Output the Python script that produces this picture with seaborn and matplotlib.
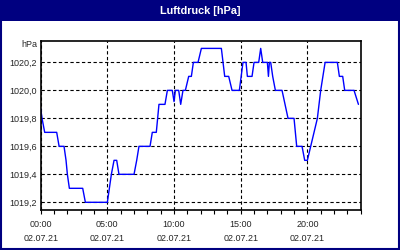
import matplotlib
matplotlib.use("Agg")
import matplotlib.pyplot as plt
import seaborn as sns
import pandas as pd
from matplotlib.patches import Rectangle
from matplotlib.ticker import MultipleLocator, FixedLocator

# ---- data (hours since 02.07.21 00:00, pressure in hPa) ----
hours = [0.0, 0.1, 0.3, 1.2, 1.38, 1.75, 1.9, 2.0, 2.15, 3.15, 3.35, 5.0,
         5.15, 5.3, 5.5, 5.7, 5.87, 7.0, 7.2, 7.37, 8.2, 8.37, 8.67, 8.77,
         8.87, 9.32, 9.5, 9.87, 10.0, 10.1, 10.35, 10.5, 10.67, 10.85, 11.1,
         11.3, 11.45, 11.8, 12.05, 13.55, 13.8, 14.1, 14.35, 14.9, 15.17,
         15.4, 15.5, 15.85, 16.0, 16.35, 16.5, 16.65, 17.0, 17.08, 17.15,
         17.25, 17.4, 17.6, 18.1, 18.55, 19.0, 19.2, 19.6, 19.8, 20.0, 20.25,
         20.75, 21.0, 21.33, 22.25, 22.4, 22.65, 22.8, 23.5, 23.83]
pressure = [1019.87, 1019.8, 1019.7, 1019.7, 1019.6, 1019.6, 1019.5, 1019.4,
            1019.3, 1019.3, 1019.2, 1019.2, 1019.3, 1019.4, 1019.5, 1019.5,
            1019.4, 1019.4, 1019.5, 1019.6, 1019.6, 1019.7, 1019.7, 1019.8,
            1019.9, 1019.9, 1020.0, 1020.0, 1019.92, 1020.0, 1020.0, 1019.9,
            1020.0, 1020.0, 1020.1, 1020.1, 1020.2, 1020.2, 1020.3, 1020.3,
            1020.1, 1020.1, 1020.0, 1020.0, 1020.2, 1020.2, 1020.1, 1020.1,
            1020.2, 1020.2, 1020.3, 1020.2, 1020.2, 1020.1, 1020.2, 1020.2,
            1020.1, 1020.0, 1020.0, 1019.8, 1019.8, 1019.6, 1019.6, 1019.5,
            1019.5, 1019.6, 1019.8, 1020.0, 1020.2, 1020.2, 1020.1, 1020.1,
            1020.0, 1020.0, 1019.9]

x_tick_hours = [0, 5, 10, 15, 20]
x_tick_times = ["00:00", "05:00", "10:00", "15:00", "20:00"]
x_tick_dates = ["02.07.21", "02.07.21", "02.07.21", "02.07.21", "02.07.21"]
y_ticks = [1019.2, 1019.4, 1019.6, 1019.8, 1020.0, 1020.2]
title_text = "Luftdruck [hPa]"
unit_text = "hPa"

NAVY = "#000080"

sns.set_style("white")
plt.rcParams["font.family"] = ["Liberation Sans", "DejaVu Sans"]

df = pd.DataFrame({"h": hours, "p": pressure})

fig = plt.figure(figsize=(4, 2.5), dpi=100)
W, H = 400, 250
ax = fig.add_axes([40.7 / W, 1 - 210 / H, 320 / W, (210 - 40.7) / H])

sns.lineplot(data=df, x="h", y="p", ax=ax, color="#0000FF", linewidth=1.0,
             estimator=None, sort=False)

ax.set_xlim(0, 24)
ax.set_ylim(1019.145, 1020.355)
ax.set_xlabel("")
ax.set_ylabel("")

ax.xaxis.set_major_locator(FixedLocator(x_tick_hours))
ax.xaxis.set_minor_locator(MultipleLocator(1))
ax.set_xticklabels([f"{t}\n{d}" for t, d in zip(x_tick_times, x_tick_dates)])
ax.yaxis.set_major_locator(FixedLocator(y_ticks))
ax.set_yticklabels([f"{v:.1f}".replace(".", ",") for v in y_ticks])

ax.tick_params(axis="x", which="both", direction="out", length=3, width=0.8,
               color="black", pad=4, labelsize=6.5, bottom=True)
ax.tick_params(axis="y", which="both", length=0, pad=3, labelsize=6.5, left=True)
for lab in ax.get_xticklabels():
    lab.set_linespacing(1.75)

ax.grid(True, which="major", color="black", linestyle=(0, (3, 2.2)),
        linewidth=0.8)
for s in ax.spines.values():
    s.set_visible(True)
    s.set_color("black")
    s.set_linewidth(1.2)

# title bar and frame
fig.patches.append(Rectangle((0, 1 - 20.7 / H), 1, 20.7 / H,
                             transform=fig.transFigure, facecolor=NAVY,
                             edgecolor="none", zorder=0))
fig.patches.append(Rectangle((1 / W, 1 / H), 1 - 2 / W, 1 - 2 / H,
                             transform=fig.transFigure, facecolor="none",
                             edgecolor=NAVY, linewidth=1.5, zorder=5))
fig.text(0.5, 1 - 10.5 / H, title_text, color="white", fontsize=7.8,
         fontweight="bold", ha="center", va="center")
fig.text(37 / W, 1 - 44.5 / H, unit_text, fontsize=6.5, ha="right",
         va="center")

fig.savefig("out.png", dpi=100)
